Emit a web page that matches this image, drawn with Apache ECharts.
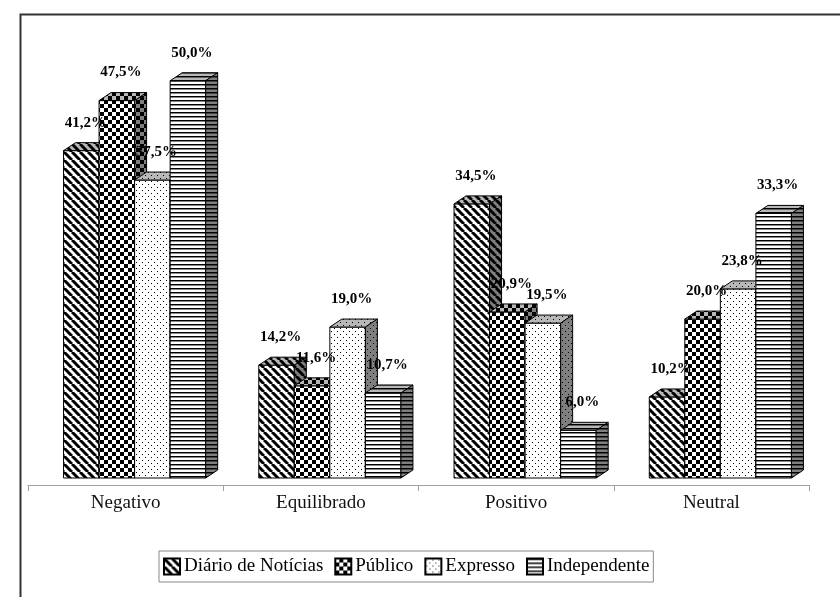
<!DOCTYPE html>
<html>
<head>
<meta charset="utf-8">
<script src="https://cdn.jsdelivr.net/npm/echarts@6/dist/echarts.min.js"></script>
<style>
  html, body { margin: 0; padding: 0; background: #fff; }
  #chart { width: 840px; height: 597px; }
</style>
</head>
<body>
<div id="chart"></div>
<script>
// dados
const categories = ['Negativo', 'Equilibrado', 'Positivo', 'Neutral'];
const seriesNames = ['Diário de Notícias', 'Público', 'Expresso', 'Independente'];
const diario = [41.2, 14.2, 34.5, 10.2];
const publico = [47.5, 11.6, 20.9, 20.0];
const expresso = [37.5, 19.0, 19.5, 23.8];
const independente = [50.0, 10.7, 6.0, 33.3];
const allValues = [diario, publico, expresso, independente];

// padrões a preto e branco
function makePattern(kind) {
  const c = document.createElement('canvas');
  const ctx = c.getContext('2d');
  if (kind === 'diag') {
    c.width = 8; c.height = 8;
    ctx.fillStyle = '#fff'; ctx.fillRect(0, 0, 8, 8);
    ctx.strokeStyle = '#000'; ctx.lineWidth = 3;
    [-8, 0, 8].forEach(k => {
      ctx.beginPath(); ctx.moveTo(k, 0); ctx.lineTo(k + 8, 8); ctx.stroke();
    });
  } else if (kind === 'checker') {
    c.width = 8; c.height = 8;
    ctx.fillStyle = '#000'; ctx.fillRect(0, 0, 8, 8);
    ctx.fillStyle = '#fff';
    ctx.fillRect(0, 0, 4, 4); ctx.fillRect(4, 4, 4, 4);
  } else if (kind === 'dots') {
    c.width = 6; c.height = 6;
    ctx.fillStyle = '#fff'; ctx.fillRect(0, 0, 6, 6);
    ctx.fillStyle = '#000';
    ctx.fillRect(1, 1, 1, 1); ctx.fillRect(4, 4, 1, 1);
  } else {
    c.width = 4; c.height = 4;
    ctx.fillStyle = '#fff'; ctx.fillRect(0, 0, 4, 4);
    ctx.fillStyle = '#000'; ctx.fillRect(0, 0, 4, 1);
    ctx.fillStyle = '#888'; ctx.fillRect(0, 1, 4, 1);
  }
  return { image: c, repeat: 'repeat' };
}
const patterns = [makePattern('diag'), makePattern('checker'), makePattern('dots'), makePattern('hstripe')];

function fmt(v) {
  return v.toFixed(1).replace('.', ',') + '%';
}

function makeRender(s) {
  return function (params, api) {
    const idx = api.value(0);
    const val = api.value(1);
    const base = api.coord([idx, 0]);
    const band = api.size([1, 0])[0];
    const w = band * 0.182;
    const x = base[0] + band * 0.046 - 2 * w + s * w;
    const yb = base[1] - 7;
    const h = api.size([0, val])[1];
    const yt = yb - h;
    const dx = 12, dy = 8;
    const fill = patterns[s];
    const edge = { stroke: '#000', lineWidth: 1 };
    const top = [[x, yt], [x + dx, yt - dy], [x + w + dx, yt - dy], [x + w, yt]];
    const side = [[x + w, yt], [x + w + dx, yt - dy], [x + w + dx, yb - dy], [x + w, yb]];
    return {
      type: 'group',
      children: [
        { type: 'rect', shape: { x: x, y: yt, width: w, height: h }, style: Object.assign({ fill: fill }, edge) },
        { type: 'polygon', shape: { points: top }, style: { fill: fill } },
        { type: 'polygon', shape: { points: top }, style: Object.assign({ fill: 'rgba(0,0,0,0.28)' }, edge) },
        { type: 'polygon', shape: { points: side }, style: { fill: fill } },
        { type: 'polygon', shape: { points: side }, style: Object.assign({ fill: 'rgba(0,0,0,0.5)' }, edge) },
        {
          type: 'text', x: x + w / 2 + 4, y: yt - 28, z2: 100,
          style: {
            text: fmt(val), fill: '#000', align: 'center', verticalAlign: 'middle',
            font: 'bold 15px "Liberation Serif"'
          }
        }
      ]
    };
  };
}

const chart = echarts.init(document.getElementById('chart'));

const option = {
  animation: false,
  backgroundColor: '#fff',
  graphic: [{
    type: 'rect', left: 18, top: 12,
    shape: { x: 0, y: 0, width: 900, height: 700 },
    style: { fill: 'none', stroke: '#333', lineWidth: 2 },
    silent: true
  }],
  legend: {
    data: seriesNames,
    left: 159, top: 551,
    padding: [6, 4, 6, 4],
    borderColor: '#888', borderWidth: 1,
    itemWidth: 16, itemHeight: 16, itemGap: 11,
    icon: 'rect',
    textStyle: { fontFamily: 'Liberation Serif', fontSize: 19, color: '#000', padding: [0, 0, 0, -1] }
  },
  grid: { left: 28, right: 31, top: 48, bottom: 112 },
  xAxis: {
    type: 'category',
    data: categories,
    axisLine: { lineStyle: { color: '#a0a0a0', width: 1 } },
    axisTick: { show: true, length: 6, lineStyle: { color: '#a0a0a0' } },
    axisLabel: { fontFamily: 'Liberation Serif', fontSize: 19, color: '#111', margin: 9 }
  },
  yAxis: { type: 'value', min: 0, max: 55, show: false, splitLine: { show: false } },
  series: seriesNames.map((name, s) => ({
    name: name,
    type: 'custom',
    coordinateSystem: 'cartesian2d',
    renderItem: makeRender(s),
    itemStyle: { color: patterns[s], borderColor: '#000', borderWidth: 1 },
    encode: { x: 0, y: 1 },
    data: categories.map((c, i) => [i, allValues[s][i]])
  }))
};

chart.setOption(option);
</script>
</body>
</html>
